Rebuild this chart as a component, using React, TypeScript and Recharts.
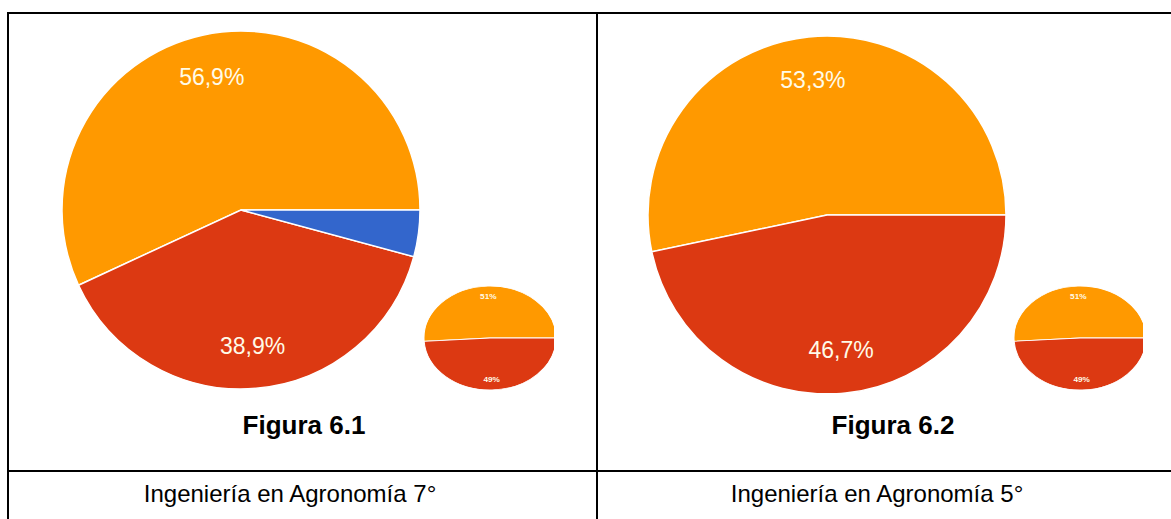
import React from 'react';
import { PieChart, Pie, Cell } from 'recharts';

// Figura 6.1 - Ingeniería en Agronomía 7°
const fig1Labels = ['56,9%', '38,9%', '4,2%'];
const fig1Values = [56.9, 38.9, 4.2];
const fig1Colors = ['#FF9900', '#DC3912', '#3366CC'];

// Figura 6.2 - Ingeniería en Agronomía 5°
const fig2Labels = ['53,3%', '46,7%'];
const fig2Values = [53.3, 46.7];
const fig2Colors = ['#FF9900', '#DC3912'];

// small inset pie repeated in both cells
const insetLabels = ['51%', '49%'];
const insetValues = [51, 49];
const insetColors = ['#FF9900', '#DC3912'];

const captions = ['Figura 6.1', 'Figura 6.2'];
const careers = ['Ingeniería en Agronomía 7°', 'Ingeniería en Agronomía 5°'];

const FONT = '"Liberation Sans", Arial, sans-serif';
const RAD = Math.PI / 180;

const toRows = (labels: string[], values: number[]) =>
  labels.map((label, i) => ({ label, value: values[i] }));

const makeLabel = (fontSize: number, dist: number, bold = false) => (props: any) => {
  const { cx, cy, midAngle, outerRadius, percent, payload } = props;
  if (percent < 0.1) return null;
  const r = outerRadius * dist;
  const x = cx + r * Math.cos(-midAngle * RAD);
  const y = cy + r * Math.sin(-midAngle * RAD);
  return (
    <text
      x={x}
      y={y}
      fill="#fffbe8"
      textAnchor="middle"
      dominantBaseline="central"
      fontSize={fontSize}
      fontWeight={bold ? 700 : 400}
      fontFamily={FONT}
    >
      {payload.label}
    </text>
  );
};

interface PieBoxProps {
  rows: { label: string; value: number }[];
  colors: string[];
  left: number;
  top: number;
  width: number;
  height: number;
  cx: number;
  cy: number;
  r: number;
  fontSize: number;
  dist: number;
  bold?: boolean;
  strokeWidth?: number;
}

const PieBox: React.FC<PieBoxProps> = ({ rows, colors, left, top, width, height, cx, cy, r, fontSize, dist, bold, strokeWidth = 1.5 }) => (
  <div style={{ position: 'absolute', left, top, width, height, overflow: 'hidden' }}>
    <PieChart width={width} height={height} margin={{ top: 0, right: 0, bottom: 0, left: 0 }}>
      <Pie
        data={rows}
        dataKey="value"
        cx={cx}
        cy={cy}
        outerRadius={r}
        startAngle={0}
        endAngle={360}
        stroke="#ffffff"
        strokeWidth={strokeWidth}
        labelLine={false}
        label={makeLabel(fontSize, dist, bold)}
        isAnimationActive={false}
      >
        {rows.map((_, i) => (
          <Cell key={i} fill={colors[i]} />
        ))}
      </Pie>
    </PieChart>
  </div>
);

// inset pie is stretched horizontally like the pasted screenshot
const InsetPie: React.FC<{ cx: number; cy: number; clipRight: number }> = ({ cx, cy, clipRight }) => {
  const ry = 52;
  const sx = 66 / 52;
  const size = ry * 2 + 4;
  const clipLeft = cx - 80;
  return (
    <div style={{ position: 'absolute', left: clipLeft, top: cy - size / 2, width: clipRight - clipLeft, height: size, overflow: 'hidden' }}>
      <div
        style={{
          position: 'absolute',
          left: cx - clipLeft - size / 2,
          top: 0,
          width: size,
          height: size,
          transform: `scaleX(${sx})`,
          transformOrigin: 'center center',
        }}
      >
        <PieChart width={size} height={size} margin={{ top: 0, right: 0, bottom: 0, left: 0 }}>
          <Pie
            data={toRows(insetLabels, insetValues)}
            dataKey="value"
            cx={size / 2}
            cy={size / 2}
            outerRadius={ry}
            startAngle={0}
            endAngle={360}
            stroke="#ffffff"
            strokeWidth={0.8}
            labelLine={false}
            label={makeLabel(6.5, 0.8, true)}
            isAnimationActive={false}
          >
            {insetValues.map((_, i) => (
              <Cell key={i} fill={insetColors[i]} />
            ))}
          </Pie>
        </PieChart>
      </div>
    </div>
  );
};

const line = (left: number, top: number, width: number, height: number) => (
  <div style={{ position: 'absolute', left, top, width, height, background: '#000' }} />
);

const textStyle = (cx: number, top: number, size: number, bold: boolean): React.CSSProperties => ({
  position: 'absolute',
  left: cx - 250,
  width: 500,
  top,
  textAlign: 'center',
  fontFamily: FONT,
  fontSize: size,
  fontWeight: bold ? 700 : 400,
  color: '#000',
  lineHeight: 1,
  whiteSpace: 'nowrap',
});

export default function App() {
  return (
    <div style={{ position: 'absolute', left: 0, top: 0, width: 1171, height: 519, background: '#fff', overflow: 'hidden' }}>
      <PieBox
        rows={toRows(fig1Labels, fig1Values)}
        colors={fig1Colors}
        left={55}
        top={25}
        width={372}
        height={368}
        cx={186}
        cy={185}
        r={179}
        fontSize={23}
        dist={0.76}
      />
      <PieBox
        rows={toRows(fig2Labels, fig2Values)}
        colors={fig2Colors}
        left={640}
        top={30}
        width={375}
        height={363}
        cx={187}
        cy={185}
        r={179}
        fontSize={23}
        dist={0.76}
      />
      <InsetPie cx={490} cy={338} clipRight={554} />
      <InsetPie cx={1080} cy={338} clipRight={1143} />

      <div style={textStyle(304, 412, 26, true)}>{captions[0]}</div>
      <div style={textStyle(893, 412, 26, true)}>{captions[1]}</div>
      <div style={textStyle(290, 482, 24, false)}>{careers[0]}</div>
      <div style={textStyle(877, 482, 24, false)}>{careers[1]}</div>

      {line(7, 12, 1164, 2)}
      {line(7, 12, 2, 507)}
      {line(596, 12, 2, 507)}
      {line(7, 470, 1164, 2)}
    </div>
  );
}
